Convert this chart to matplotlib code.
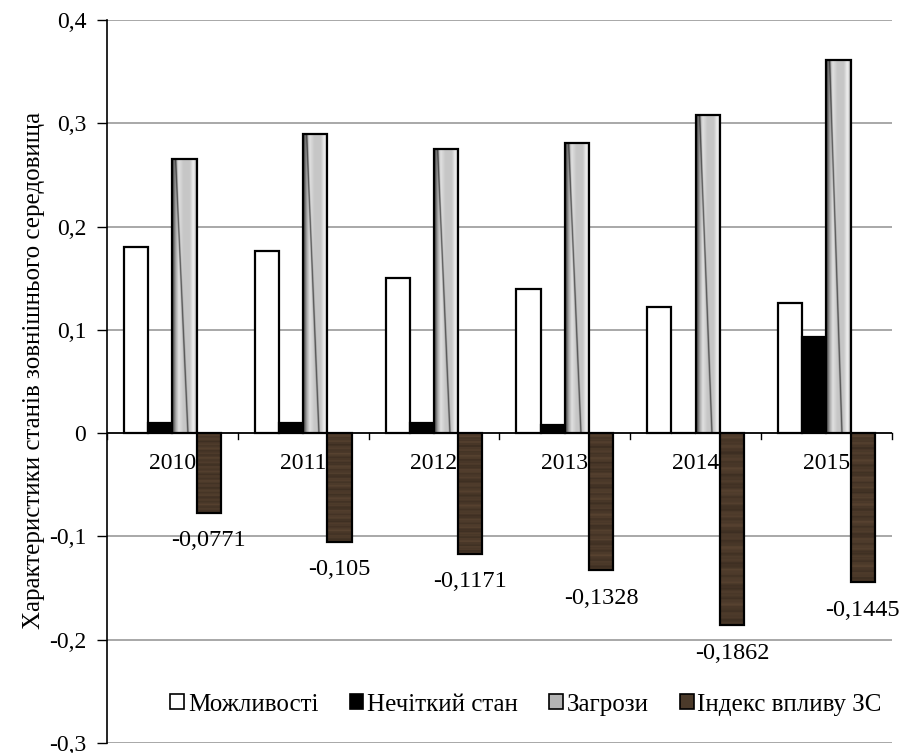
import numpy as np
import matplotlib
matplotlib.use("Agg")
import matplotlib.pyplot as plt
from matplotlib.patches import Patch

plt.rcParams['font.family'] = ['Liberation Serif', 'DejaVu Serif']

# дані
roky = ["2010", "2011", "2012", "2013", "2014", "2015"]
mozhlyvosti = [0.180, 0.176, 0.150, 0.140, 0.1226, 0.126]
nechitkyi = [0.010, 0.010, 0.0097, 0.008, 0.0, 0.093]
zagrozy = [0.265, 0.290, 0.275, 0.281, 0.308, 0.361]
indeks = [-0.0771, -0.105, -0.1171, -0.1328, -0.1862, -0.1445]
indeks_labels = ["-0,0771", "-0,105", "-0,1171", "-0,1328", "-0,1862", "-0,1445"]
yticks = [-0.3, -0.2, -0.1, 0, 0.1, 0.2, 0.3, 0.4]
ytick_labels = ["-0,3", "-0,2", "-0,1", "0", "0,1", "0,2", "0,3", "0,4"]
legend_names = ["Можливості", "Нечіткий стан", "Загрози", "Індекс впливу ЗС"]

fig = plt.figure(figsize=(8.99, 7.53), dpi=100)
ax = fig.add_axes([0.119, 0.0133, 0.873, 0.9601])

x = np.arange(len(roky))
w = 0.185
ax.set_xlim(-0.5, len(roky) - 0.5)
ax.set_ylim(-0.3, 0.4)

brown = "#4b3a2a"
ax.bar(x - 1.5 * w, mozhlyvosti, w, color="white", edgecolor="black", lw=1.6, zorder=3)
ax.bar(x - 0.5 * w, nechitkyi, w, color="black", edgecolor="black", lw=1.6, zorder=3)
gr = ax.bar(x + 0.5 * w, zagrozy, w, color="none", edgecolor="black", lw=1.6, zorder=4)
br = ax.bar(x + 1.5 * w, indeks, w, color="none", edgecolor="black", lw=1.6, zorder=4)

# градієнтна заливка для "Загрози"
u = np.linspace(0, 1, 60)
base = np.interp(u, [0, 0.06, 0.15, 0.27, 0.45, 0.72, 0.86, 0.93, 1.0],
                 [0.2, 0.38, 0.66, 0.88, 0.78, 0.78, 0.94, 0.84, 0.5])
for rect in gr:
    x0 = rect.get_x()
    h = rect.get_height()
    v = np.linspace(0, 1, 300)[:, None]
    c = 0.14 + 0.5 * v
    dark = 1 - 0.7 * np.exp(-((u[None, :] - c) / 0.03) ** 2)
    img = np.clip(base[None, :] * dark, 0, 1)
    rgb = np.dstack([img, img, img])
    im = ax.imshow(rgb, extent=(x0, x0 + w, 0, h), origin="upper",
                   aspect="auto", zorder=3, interpolation="bilinear")
    im.set_clip_path(rect)

# "дерев'яна" заливка для індексу
rows = np.arange(120)
tone = 1 + 0.10 * np.sin(rows * 0.9) + 0.07 * np.sin(rows * 2.3 + 1) + 0.05 * np.sin(rows * 0.37)
wood = np.array([0.29, 0.22, 0.16])
for rect in br:
    x0 = rect.get_x()
    h = rect.get_height()
    rgb = np.clip(tone[:, None, None] * wood[None, None, :] * np.ones((1, 10, 1)), 0, 1)
    im = ax.imshow(rgb, extent=(x0, x0 + w, h, 0), origin="upper",
                   aspect="auto", zorder=3, interpolation="bilinear")
    im.set_clip_path(rect)

ax.set_xlim(-0.5, len(roky) - 0.5)
ax.set_ylim(-0.3, 0.4)

# сітка
for yv in yticks:
    if yv != 0:
        ax.axhline(yv, color="#9a9a9a", lw=1.2, zorder=1)
ax.axhline(0, color="black", lw=1.3, zorder=5)

for s in ["top", "right", "bottom"]:
    ax.spines[s].set_visible(False)
ax.spines["left"].set_linewidth(1.2)

ax.set_yticks(yticks)
ax.set_yticklabels(ytick_labels, fontsize=17)
ax.tick_params(axis="y", length=7, width=1, pad=8)
ax.set_xticks([])

# мітки категорій біля нуля
for i in range(len(roky) + 1):
    ax.plot([i - 0.5, i - 0.5], [0, -0.006], color="black", lw=1, zorder=5, clip_on=False)
for i, r in enumerate(roky):
    ax.text(i, -0.029, r, ha="center", va="center", fontsize=17, zorder=2)

for i, v in enumerate(indeks):
    ax.text(i + 1.5 * w, v - 0.027, indeks_labels[i], ha="center", va="center",
            fontsize=17.5, zorder=6)

fig.text(34 / 899, 0.5086, "Характеристики станів зовнішнього середовища",
         rotation=90, ha="center", va="center", fontsize=18)

handles = [Patch(facecolor="white", edgecolor="black", lw=1.2),
           Patch(facecolor="black", edgecolor="black", lw=1.2),
           Patch(facecolor="#b4b4b4", edgecolor="black", lw=1.2),
           Patch(facecolor=brown, edgecolor="black", lw=1.2)]
ax.legend(handles, legend_names, ncol=4, loc="center", bbox_to_anchor=(0.534, 0.053),
          frameon=False, fontsize=18, handlelength=0.55, handleheight=0.55,
          handletextpad=0.15, columnspacing=1.25)

fig.savefig("out.png", dpi=100)
